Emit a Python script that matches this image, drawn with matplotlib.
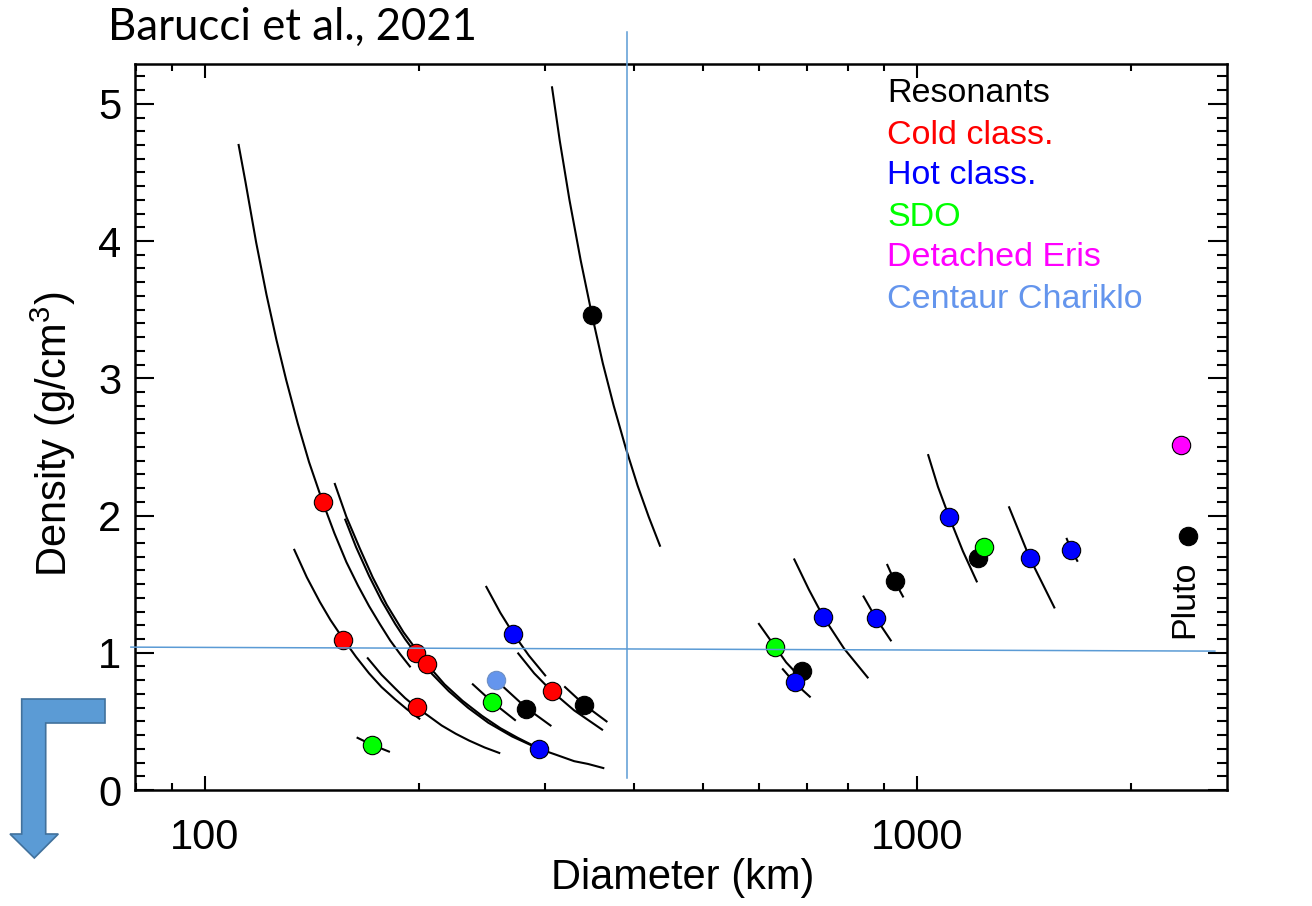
import numpy as np
import matplotlib.pyplot as plt
from matplotlib.ticker import FixedLocator, FixedFormatter, MultipleLocator, NullFormatter, LogLocator
from matplotlib.patches import Polygon

plt.rcParams['font.family'] = ['Liberation Sans', 'DejaVu Sans']
plt.rcParams['mathtext.default'] = 'regular'

# points (diameter km, density g/cm3) per dynamical class
res_d = [349.6, 282.4, 341.1, 688.9, 930.5, 1219, 2400]
res_rho = [3.46, 0.59, 0.62, 0.87, 1.52, 1.69, 1.85]
cold_d = [146.3, 156.4, 198.0, 198.3, 204.8, 306.9]
cold_rho = [2.10, 1.095, 0.998, 0.602, 0.918, 0.719]
hot_d = [271, 294.5, 673.3, 739, 876, 1109.5, 1440, 1647]
hot_rho = [1.138, 0.30, 0.784, 1.264, 1.252, 1.987, 1.693, 1.749]
sdo_d = [171.5, 253.3, 632.7, 1243]
sdo_rho = [0.331, 0.639, 1.041, 1.769]
eris_d = [2351]
eris_rho = [2.513]
chariklo_d = [256.3]
chariklo_rho = [0.799]

# constant-mass tracks: (diameters, densities)
mass_curves = [
    ([111.5, 114, 118, 122, 126, 130, 135, 140, 146.3, 152, 158, 164, 170, 176, 182, 188, 194],
     [4.70, 4.43, 3.99, 3.61, 3.28, 2.99, 2.67, 2.39, 2.10, 1.87, 1.66, 1.49, 1.34, 1.21, 1.09, 0.99, 0.90]),
    ([133.5, 139, 145, 150, 156.4, 163, 170, 177, 185, 192, 200],
     [1.75, 1.55, 1.37, 1.24, 1.10, 0.97, 0.85, 0.75, 0.66, 0.59, 0.52]),
    ([169.3, 177, 185, 191, 198.3, 206, 215, 225, 235, 247, 259],
     [0.96, 0.84, 0.74, 0.67, 0.60, 0.54, 0.47, 0.41, 0.36, 0.31, 0.27]),
    ([152.2, 158, 165, 172, 180, 190, 204.8, 217, 230, 245, 260, 275, 290],
     [2.23, 1.99, 1.76, 1.55, 1.35, 1.15, 0.92, 0.77, 0.65, 0.54, 0.45, 0.38, 0.32]),
    ([157.4, 163, 170, 177, 185, 191, 198, 208, 220, 234, 250, 270, 294.5, 310, 330, 345, 362.6],
     [1.97, 1.77, 1.56, 1.38, 1.21, 1.10, 0.99, 0.85, 0.72, 0.60, 0.49, 0.39, 0.30, 0.26, 0.21, 0.19, 0.16]),
    ([163.8, 171.5, 181.3], [0.38, 0.33, 0.28]),
    ([248.4, 260, 271, 285, 300.5], [1.48, 1.29, 1.14, 0.98, 0.835]),
    ([275.4, 290, 306.9, 330, 361.2], [0.995, 0.85, 0.72, 0.58, 0.44]),
    ([320.4, 341.1, 366.4], [0.75, 0.62, 0.50]),
    ([256.3, 282.4, 305.7], [0.80, 0.60, 0.47]),
    ([237.8, 253.3, 272.5], [0.77, 0.64, 0.51]),
    ([307.2, 315, 325, 337, 349.6, 362, 375, 390, 405, 420, 435.5],
     [5.12, 4.73, 4.30, 3.86, 3.46, 3.11, 2.80, 2.49, 2.22, 1.99, 1.78]),
    ([599.8, 632.7, 655, 680], [1.21, 1.04, 0.93, 0.84]),
    ([648, 673.3, 707.1], [0.88, 0.78, 0.68]),
    ([672.5, 705, 739, 790, 852.5], [1.68, 1.46, 1.26, 1.03, 0.82]),
    ([841.3, 876, 918.7], [1.41, 1.25, 1.09]),
    ([908.5, 930.5, 955.6], [1.64, 1.52, 1.41]),
    ([1037, 1070, 1109.5, 1160, 1213], [2.44, 2.21, 1.99, 1.74, 1.52]),
    ([1347, 1440, 1559], [2.06, 1.69, 1.33]),
    ([1623, 1647, 1679], [1.83, 1.75, 1.67]),
]

legend_labels = ['Resonants', 'Cold class.', 'Hot class.', 'SDO', 'Detached Eris', 'Centaur Chariklo']
legend_colors = ['black', 'red', 'blue', '#00ff00', 'magenta', '#6495ED']

W, H = 1312, 906
fig = plt.figure(figsize=(W / 100, H / 100), dpi=100)
ax = fig.add_axes([135 / W, 1 - 790 / H, 1092 / W, 726 / H])

for d, r in mass_curves:
    ax.plot(d, r, color='black', lw=1.5, zorder=2)

ms = 175
ax.scatter(res_d, res_rho, s=ms, c='black', edgecolors='black', linewidths=0.8, zorder=3)
ax.scatter(cold_d, cold_rho, s=ms, c='red', edgecolors='black', linewidths=0.8, zorder=4)
ax.scatter(hot_d, hot_rho, s=ms, c='blue', edgecolors='black', linewidths=0.8, zorder=4)
ax.scatter(sdo_d, sdo_rho, s=ms, c='#00ff00', edgecolors='black', linewidths=0.8, zorder=4)
ax.scatter(eris_d, eris_rho, s=ms, c='magenta', edgecolors='black', linewidths=0.8, zorder=4)
ax.scatter(chariklo_d, chariklo_rho, s=ms, c='#6495ED', edgecolors='#6d8fc4', linewidths=0.8, zorder=4)

ax.set_xscale('log')
ax.set_xlim(79.75, 2725)
ax.set_ylim(0, 5.29)

ax.xaxis.set_major_locator(FixedLocator([100, 1000]))
ax.xaxis.set_major_formatter(FixedFormatter(['100', '1000']))
ax.xaxis.set_minor_locator(LogLocator(base=10, subs=np.arange(2, 10)))
ax.xaxis.set_minor_formatter(NullFormatter())
ax.yaxis.set_major_locator(MultipleLocator(1))
ax.yaxis.set_minor_locator(MultipleLocator(0.1))

ax.tick_params(which='both', direction='in', top=True, right=True, width=1.5, labelsize=30)
ax.tick_params(axis='x', which='major', length=10, pad=20)
ax.tick_params(axis='x', which='minor', length=5)
ax.tick_params(axis='y', which='major', length=14, pad=10)
ax.tick_params(axis='y', which='minor', length=7)
for s in ax.spines.values():
    s.set_linewidth(1.8)

ax.set_xlabel('Diameter (km)', fontsize=30)
ax.set_ylabel('Density (g/cm$^3$)', fontsize=30)
ax.xaxis.set_label_coords(0.502, -0.094)
ax.yaxis.set_label_coords(-0.052, 0.49)

for i, (lab, col) in enumerate(zip(legend_labels, legend_colors)):
    fig.text(887 / W, 1 - (94 + 41 * i) / H, lab, color=col, fontsize=24.5, va='center', ha='left')

ax.text(2379, 1.39, 'Pluto', rotation=90, fontsize=24.5, ha='center', va='center')

# overlay guide lines and arrow (slide annotations)
guide = '#5B9BD5'
ax.plot([392, 392], [0.09, 5.52], color=guide, lw=1.1, clip_on=False, zorder=5)
ax.plot([78.7, 2620], [1.041, 1.012], color=guide, lw=1.1, clip_on=False, zorder=5)

arrow_px = [(21.7, 699), (105, 699), (105, 723), (45.7, 723), (45.7, 834), (58.3, 834),
            (34.3, 858), (10, 834), (21.7, 834)]
arrow = Polygon([(x / W, 1 - y / H) for x, y in arrow_px], closed=True, transform=fig.transFigure,
                facecolor=guide, edgecolor='#41719C', lw=1.2)
fig.patches.append(arrow)

fig.text(108 / W, 1 - 40 / H, 'Barucci et al., 2021', fontsize=31.5, family='Lato', ha='left', va='baseline')

fig.savefig('out.png', dpi=100)
